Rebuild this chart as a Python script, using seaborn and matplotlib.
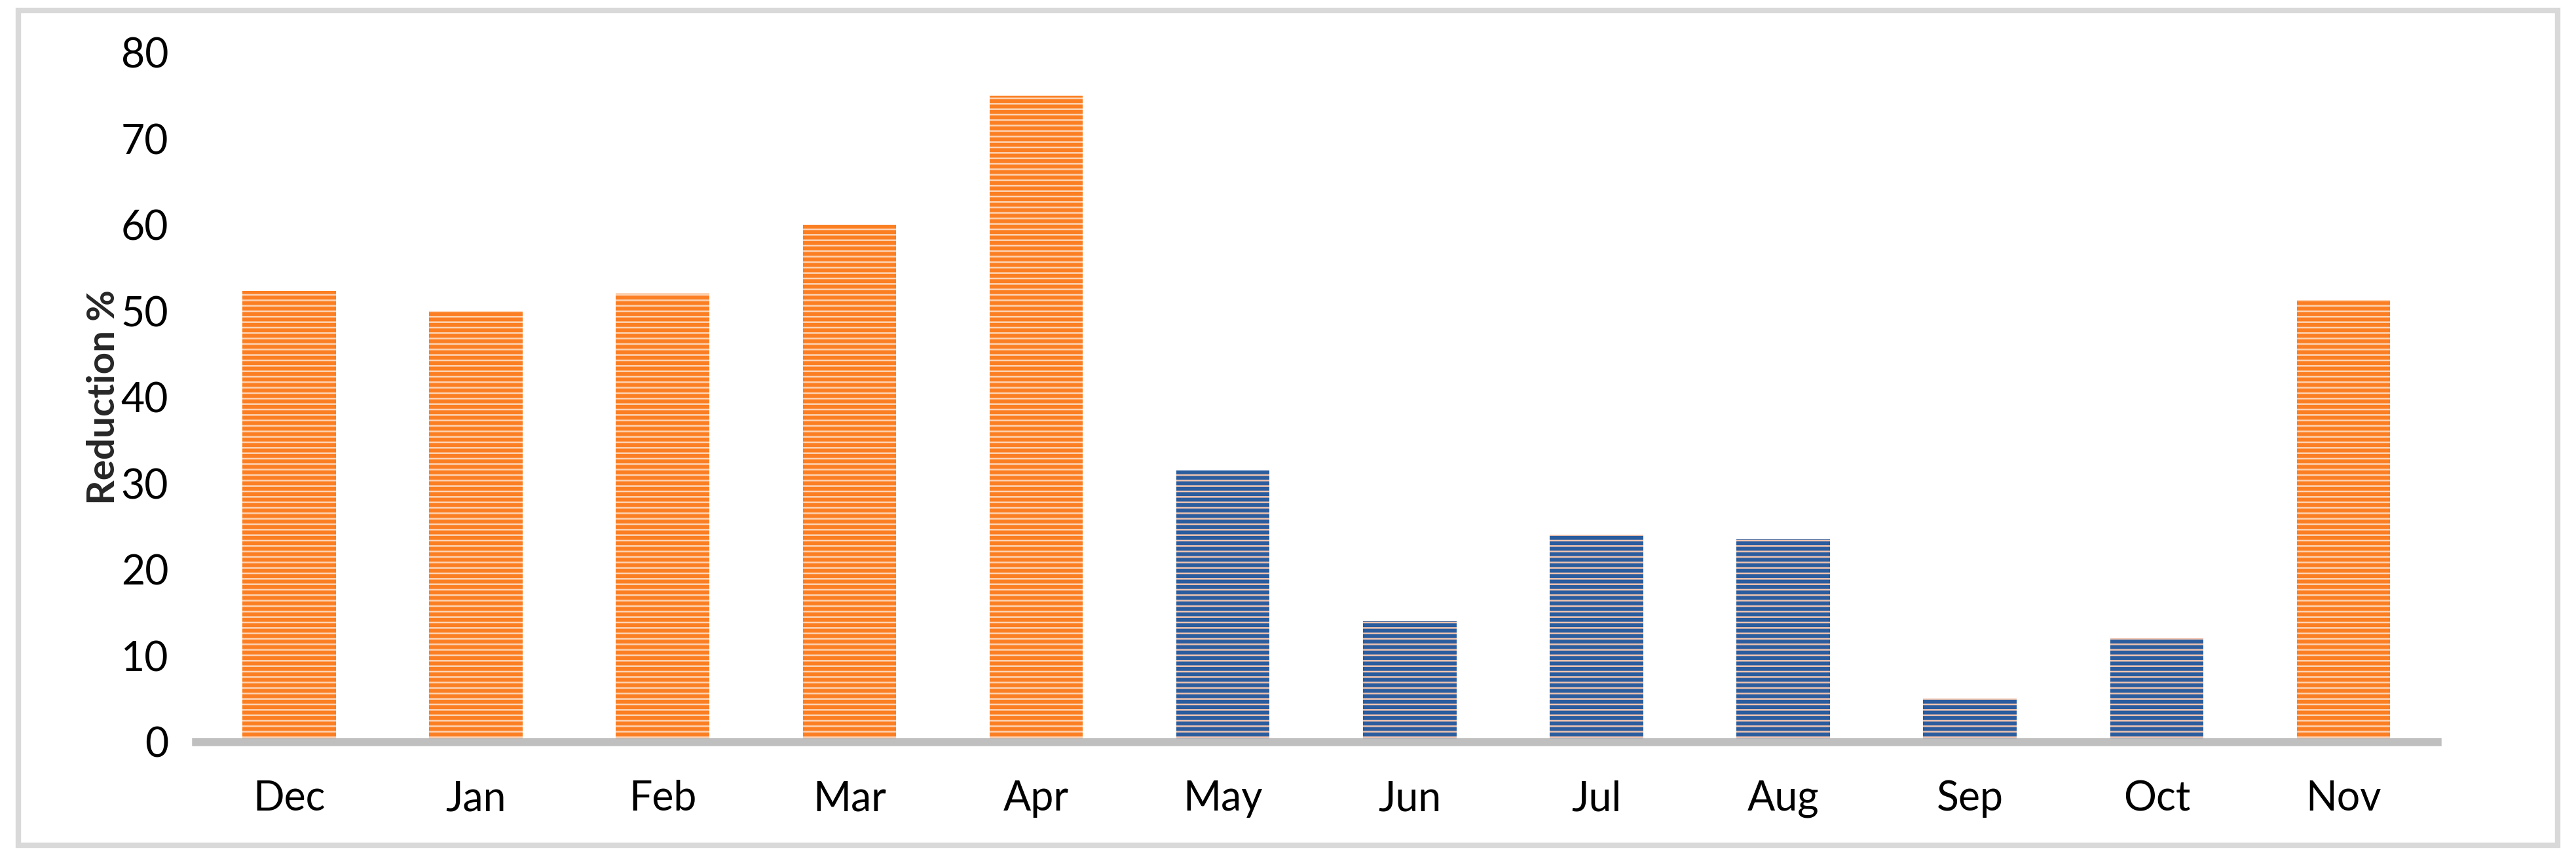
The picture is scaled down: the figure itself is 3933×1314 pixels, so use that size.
import matplotlib
matplotlib.use("Agg")
import matplotlib.pyplot as plt
import seaborn as sns
import pandas as pd
from matplotlib.patches import Rectangle

months = ["Dec", "Jan", "Feb", "Mar", "Apr", "May", "Jun", "Jul", "Aug", "Sep", "Oct", "Nov"]
reduction = [52.3, 50.0, 52.0, 60.0, 75.0, 31.5, 14.0, 24.0, 23.5, 5.0, 12.0, 51.3]
season = ["dry", "dry", "dry", "dry", "dry", "wet", "wet", "wet", "wet", "wet", "wet", "dry"]

df = pd.DataFrame({"Month": months, "Reduction": reduction, "Season": season})

sns.set_style("white")
plt.rcParams['font.family'] = ['Lato', 'DejaVu Sans']
plt.rcParams['hatch.linewidth'] = 1.4

fig = plt.figure(figsize=(13.11, 4.38), dpi=300)
ax = fig.add_axes([0.076, 0.1385, 0.87, 0.8005])
sns.barplot(data=df, x="Month", y="Reduction", width=0.5, ax=ax,
            color="white", saturation=1)

for patch, s in zip(ax.patches, df["Season"]):
    if s == "dry":
        patch.set_facecolor("#fcd3b4")
        patch.set_edgecolor("#fb7f22")
    else:
        patch.set_facecolor("#f0c4b0")
        patch.set_edgecolor("#2a5c9e")
    patch.set_hatch("------")
    patch.set_linewidth(0)

ax.set_ylim(0, 80)
ax.set_yticks(range(0, 81, 10))
ax.set_xlim(-0.5, 11.5)
ax.set_xlabel("")
ax.set_ylabel("Reduction %", fontsize=14, fontweight="bold", labelpad=0)
ax.tick_params(axis="both", labelsize=15, length=0, colors="black")
ax.tick_params(axis="x", pad=14)
ax.tick_params(axis="y", pad=10)
for side in ["top", "right", "left"]:
    ax.spines[side].set_visible(False)
ax.spines["bottom"].set_color("#bfbfbf")
ax.spines["bottom"].set_linewidth(3)

fig.patches.append(Rectangle((0.007, 0.018), 0.986, 0.97, transform=fig.transFigure,
                             fill=False, edgecolor="#d9d9d9", linewidth=2))

fig.savefig("out.png", dpi=300)
